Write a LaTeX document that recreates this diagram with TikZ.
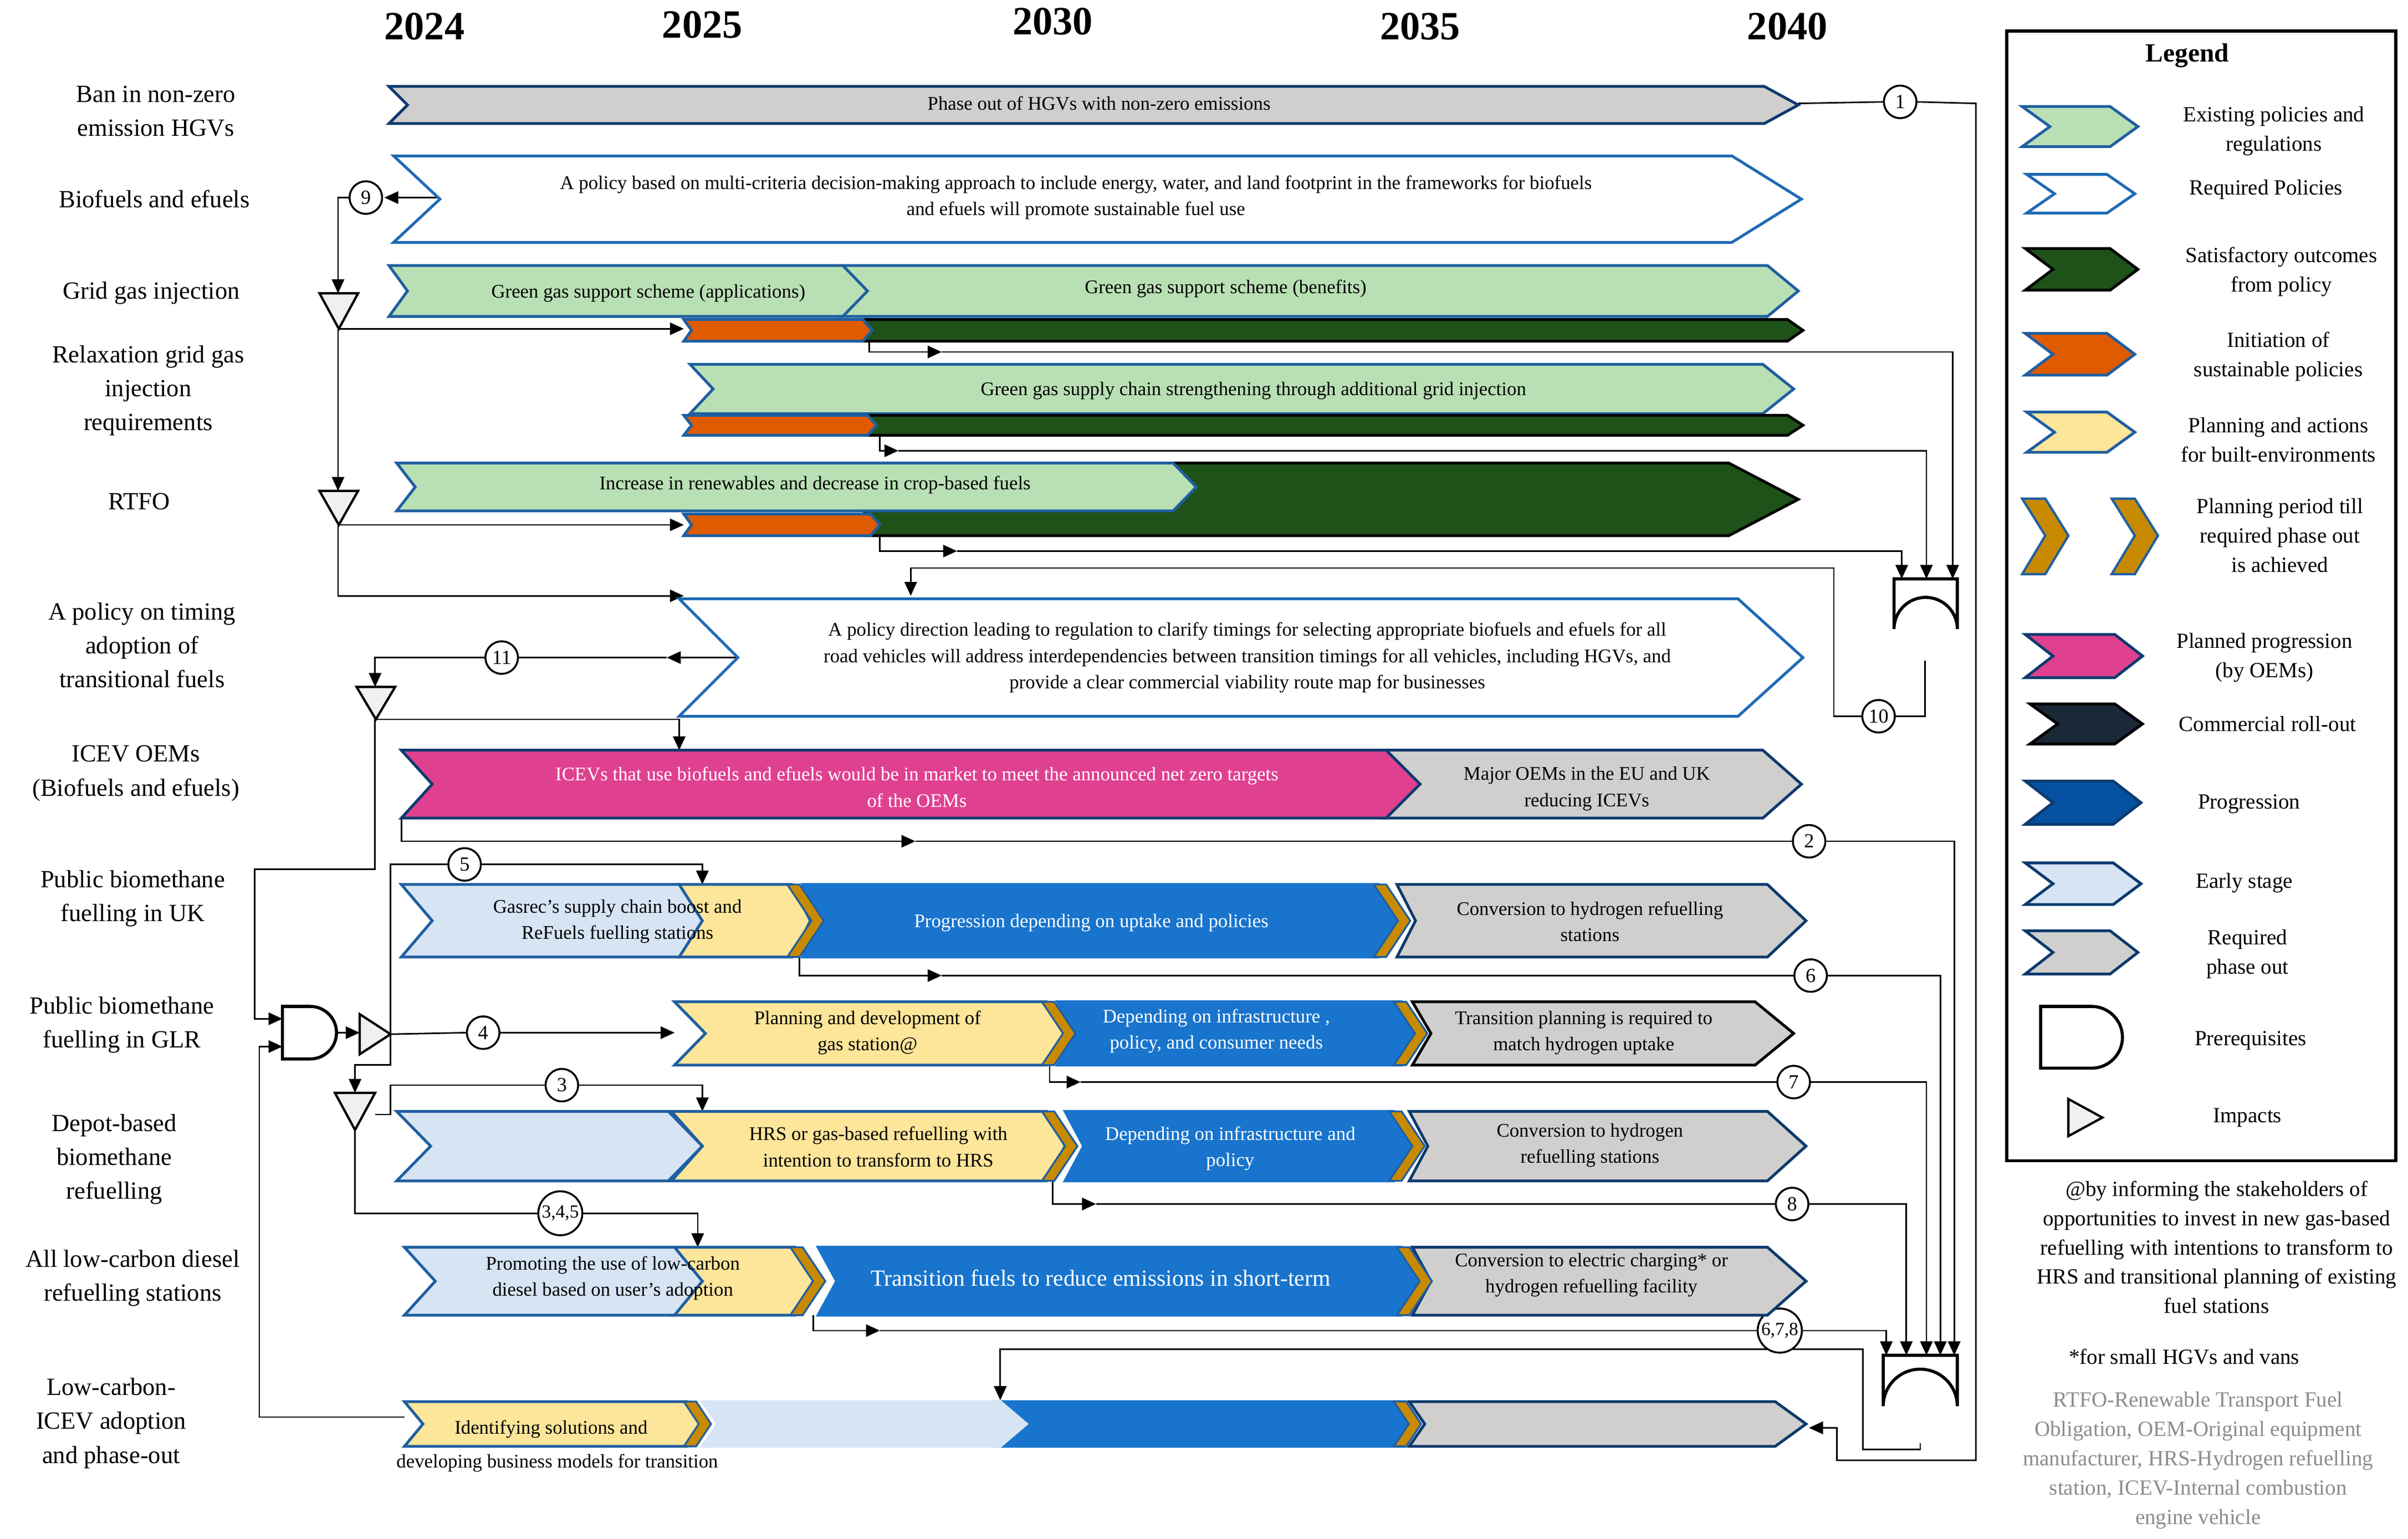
\documentclass[tikz,border=0pt]{standalone}
\usepackage{fontspec}
\setmainfont{Liberation Serif}
\usetikzlibrary{arrows.meta}
\definecolor{cgray}{HTML}{D0CFCD}
\definecolor{cnavyS}{HTML}{0D3A6E}
\definecolor{cblueS}{HTML}{1F5FA0}
\definecolor{cwS}{HTML}{1F6AB4}
\definecolor{cgreen}{HTML}{B9E0B4}
\definecolor{cdg}{HTML}{1E5219}
\definecolor{corange}{HTML}{E05A00}
\definecolor{cyellow}{HTML}{FDE59A}
\definecolor{cgold}{HTML}{C88A00}
\definecolor{cpink}{HTML}{E04090}
\definecolor{cnavy}{HTML}{1A2838}
\definecolor{cblue}{HTML}{1874CC}
\definecolor{cprog}{HTML}{0550A0}
\definecolor{clb}{HTML}{D6E4F4}
\definecolor{cnote}{HTML}{8C8C8C}
\newcommand{\chv}[8]{\draw[line width=1.8pt,fill=#1,draw=#2,line join=miter] (#3,#5) -- ({#4-#8},#5) -- (#4,{(#5+#6)/2}) -- ({#4-#8},#6) -- (#3,#6) -- ({#3+#7},{(#5+#6)/2}) -- cycle;}
\newcommand{\gld}[3]{\draw[line width=1.2pt,fill=cgold,draw=cblueS] (#1,#2) -- ({#1+8},#2) -- ({#1+8+(#3-#2)/3},{(#2+#3)/2}) -- ({#1+8},#3) -- (#1,#3) -- ({#1+(#3-#2)/3},{(#2+#3)/2}) -- cycle;}
\tikzset{
 ar/.style={-{Triangle[length=9pt,width=8pt]}, line width=1pt},
 ln/.style={line width=1pt},
 num/.style={circle,draw,line width=1.2pt,fill=white,inner sep=0pt,minimum size=21pt,font=\fontsize{13}{13}\selectfont},
 lab/.style={align=center,font=\fontsize{16}{22}\selectfont},
 bt/.style={align=center,font=\fontsize{12.5}{17}\selectfont},
 wt/.style={bt,text=white},
 yr/.style={font=\fontsize{26}{26}\selectfont\bfseries},
 lg/.style={align=center,font=\fontsize{14}{19}\selectfont},
 gate/.style={line width=2pt,fill=white},
 tri/.style={line width=1.5pt,fill=gray!12},
}
\begin{document}
\begin{tikzpicture}[x=1pt,y=-1pt]
\useasboundingbox (0,0) rectangle (1560,997);
% years
\node[yr] at (275,17) {2024};
\node[yr] at (455,16) {2025};
\node[yr] at (682,14) {2030};
\node[yr] at (920,17) {2035};
\node[yr] at (1158,17) {2040};
% left labels
\node[lab] at (101,72) {Ban in non-zero\\emission HGVs};
\node[lab] at (100,129) {Biofuels and efuels};
\node[lab] at (98,190) {Grid gas injection};
\node[lab] at (96,253) {Relaxation grid gas\\injection\\requirements};
\node[lab] at (90,325) {RTFO};
\node[lab] at (92,418) {A policy on timing\\adoption of\\transitional fuels};
\node[lab] at (88,501) {ICEV OEMs\\(Biofuels and efuels)};
\node[lab] at (86,582) {Public biomethane\\fuelling in UK};
\node[lab] at (79,664) {Public biomethane\\fuelling in GLR};
\node[lab] at (74,751) {Depot-based\\biomethane\\refuelling};
\node[lab] at (86,828) {All low-carbon diesel\\refuelling stations};
\node[lab] at (72,922) {Low-carbon-\\ICEV adoption\\and phase-out};
% ---- connectors (under bars) ----
\node[num] (c1) at (1231,66) {1};
\node[num] (c9) at (237,128) {9};
\node[num] (c10) at (1217,464) {10};
\node[num] (c11) at (325,426) {11};
\node[num] (c2) at (1172,545) {2};
\node[num] (c5) at (301,560) {5};
\node[num] (c6) at (1173,632) {6};
\node[num] (c4) at (313,669) {4};
\node[num] (c7) at (1162,701) {7};
\node[num] (c3) at (364,703) {3};
\node[num] (c8) at (1161,780) {8};
\node[num,font=\fontsize{12}{12}\selectfont,inner sep=1pt] (c345) at (363,786) {3,4,5};
\node[num,font=\fontsize{12}{12}\selectfont,inner sep=1pt] (c678) at (1153,862) {6,7,8};
\begin{scope}[on background layer/.style={}]
\draw[ln] (1165,67) -- (c1.west); \draw[ar] (c1.east) -- (1280,67) -- (1280,946) -- (1190,946) -- (1190,925) -- (1172,925);
\draw[ar] (285,128) -- (249,128);
\draw[ar] (c9.west) -| (219,190);
\draw[ar] (219,213) -- (443,213);
\draw[ar] (219,213) -- (219,318);
\draw[ar] (219,340) -- (443,340);
\draw[ar] (219,340) -- (219,386) -- (443,386);
\draw[ar] (563,221) |- (610,228); \draw[ar] (610,228) -| (1265,375);
\draw[ar] (570,282) |- (582,292); \draw[ar] (582,292) -| (1248,375);
\draw[ar] (570,347) |- (620,357); \draw[ar] (620,357) -| (1232,375);
\draw[ln] (1247,428) |- (c10.east);
\draw[ar] (c10.west) -| (1188,368) -| (590,386);
\draw[ar] (478,426) -- (432,426); \draw[ln] (432,426) -- (c11.east);
\draw[ar] (c11.west) -| (243,445);
\draw[ar] (243,466) -| (440,486);
\draw[ar] (243,466) -- (243,563) -- (165,563) -- (165,660) -- (183,660);
\draw[ar] (262,918) -- (168,918) -- (168,678) -- (183,678);
\draw[ar] (218,669) -- (233,669);
\draw[ln] (253,670) -- (c4.west); \draw[ar] (c4.east) -- (437,669);
\draw[ln] (253,670) -- (253,560) -- (c5.west); \draw[ar] (c5.east) -| (455,573);
\draw[ar] (253,670) -- (253,690) -- (230,690) -- (230,708);
\draw[ln] (243,722) -- (253,722) -- (253,703) -- (c3.west); \draw[ar] (c3.east) -| (455,720);
\draw[ln] (230,732) -- (230,786) -- (c345.west); \draw[ar] (c345.east) -| (452,808);
\draw[ar] (260,530) |- (593,545); \draw[ln] (593,545) -- (c2.west); \draw[ar] (c2.east) -| (1266,878);
\draw[ar] (518,620) |- (610,632); \draw[ln] (610,632) -- (c6.west); \draw[ar] (c6.east) -| (1257,878);
\draw[ar] (680,690) |- (700,701); \draw[ln] (700,701) -- (c7.west); \draw[ar] (c7.east) -| (1248,878);
\draw[ar] (682,765) |- (710,780); \draw[ln] (710,780) -- (c8.west); \draw[ar] (c8.east) -| (1235,878);
\draw[ar] (527,852) |- (570,862); \draw[ln] (570,862) -- (c678.west); \draw[ar] (c678.east) -| (1222,878);
\draw[ar] (1244,935) -- (1244,939) -- (1207,939) -- (1207,874) -- (648,874) -- (648,907);
\end{scope}
% redraw circles on top
\foreach \n/\t in {c1/1,c9/9,c10/10,c11/11,c2/2,c5/5,c6/6,c4/4,c7/7,c3/3,c8/8}{\node[num] at (\n) {\t};}
\node[num,font=\fontsize{12}{12}\selectfont,inner sep=1pt] at (c345) {3,4,5};
\node[num,font=\fontsize{12}{12}\selectfont,inner sep=1pt] at (c678) {6,7,8};
% gates
\draw[gate] (1227,375) -- (1268,375) -- (1268,407.5) arc (0:180:20.5 and -20.5) -- cycle;
\draw[gate] (1220,878) -- (1268,878) -- (1268,911) arc (0:180:24 and -24) -- cycle;
\draw[gate] (183,652) -- (201,652) arc (90:-90:17 and -17) -- (183,686) -- cycle;
\draw[tri] (207,190) -- (232,190) -- (219.5,213) -- cycle;
\draw[tri] (207,318) -- (232,318) -- (219.5,340) -- cycle;
\draw[tri] (231,445) -- (256,445) -- (243.5,466) -- cycle;
\draw[tri] (233,657) -- (233,683) -- (253,670) -- cycle;
\draw[tri] (217,708) -- (243,708) -- (230,732) -- cycle;
% ---- bars ----
\chv{cgray}{cnavyS}{252}{1165}{56}{80}{12}{22}
\chv{white}{cwS}{255}{1167}{101}{157}{30}{45}
\chv{cgreen}{cblueS}{545}{1165}{172}{205}{16}{20}
\chv{cgreen}{cblueS}{252}{562}{172}{205}{12}{16}
\chv{cdg}{black}{555}{1168}{207}{221}{6}{10}
\chv{corange}{cblueS}{443}{565}{207}{221}{5}{6}
\chv{cgreen}{cblueS}{447}{1162}{236}{268}{15}{20}
\chv{cdg}{black}{560}{1168}{269}{282}{6}{10}
\chv{corange}{cblueS}{443}{568}{269}{282}{5}{6}
\chv{cdg}{black}{560}{1165}{300}{347}{0}{45}
\chv{cgreen}{cblueS}{257}{775}{300}{331}{12}{15}
\chv{corange}{cblueS}{443}{570}{333}{347}{5}{6}
\chv{white}{cwS}{440}{1168}{388}{464}{38}{42}
\chv{cgray}{cnavyS}{897}{1167}{486}{530}{15}{25}
\chv{cpink}{cnavyS}{260}{920}{486}{530}{20}{22}
% row UK
\chv{cgray}{cnavyS}{905}{1170}{573}{620}{12}{25}
\chv{cblue}{cblue}{520}{905}{573}{620}{12}{12}
\chv{cyellow}{cblueS}{440}{525}{573}{620}{12}{12}
\chv{clb}{cblueS}{260}{455}{573}{620}{20}{15}
\gld{510}{573}{620}\gld{890}{573}{620}
% row GLR
\chv{cgray}{black}{915}{1162}{649}{690}{12}{25}
\chv{cblue}{cblue}{685}{920}{649}{690}{12}{12}
\chv{cyellow}{cblueS}{437}{690}{649}{690}{20}{12}
\gld{675}{649}{690}\gld{903}{649}{690}
% row depot
\chv{cgray}{cnavyS}{913}{1170}{720}{765}{12}{25}
\chv{cblue}{cblue}{690}{915}{720}{765}{12}{12}
\chv{cyellow}{cblueS}{435}{690}{720}{765}{20}{12}
\chv{clb}{cblueS}{257}{455}{720}{765}{22}{22}
\gld{675}{720}{765}\gld{900}{720}{765}
% row diesel
\chv{cgray}{cnavyS}{915}{1170}{808}{852}{12}{25}
\chv{cblue}{cblue}{530}{920}{808}{852}{12}{12}
\chv{cyellow}{cblueS}{435}{527}{808}{852}{20}{12}
\chv{clb}{cblueS}{262}{455}{808}{852}{20}{18}
\gld{512}{808}{852}\gld{905}{808}{852}
% row ICEV
\chv{cgray}{cnavyS}{913}{1170}{908}{937}{10}{20}
\chv{cblue}{cblue}{648}{920}{908}{937}{10}{10}
\chv{clb}{clb}{455}{665}{908}{937}{10}{17}
\chv{cyellow}{cblueS}{262}{455}{908}{937}{12}{10}
\gld{443}{908}{937}\gld{903}{908}{937}
% arrows into bars on top
\draw[ar] (1190,925) -- (1172,925);
\draw[ar] (648,890) -- (648,907);
% bar texts
\node[bt] at (712,67) {Phase out of HGVs with non-zero emissions};
\node[bt] at (697,128) {A policy based on multi-criteria decision-making approach to include energy, water, and land footprint in the frameworks for biofuels\\and efuels will promote sustainable fuel use};
\node[bt] at (420,190) {Green gas support scheme (applications)};
\node[bt] at (794,187) {Green gas support scheme (benefits)};
\node[bt] at (812,253) {Green gas supply chain strengthening through additional grid injection};
\node[bt] at (528,314) {Increase in renewables and decrease in crop-based fuels};
\node[bt] at (808,426) {A policy direction leading to regulation to clarify timings for selecting appropriate biofuels and efuels for all\\road vehicles will address interdependencies between transition timings for all vehicles, including HGVs, and\\provide a clear commercial viability route map for businesses};
\node[wt] at (594,510) {ICEVs that use biofuels and efuels would be in market to meet the announced net zero targets\\of the OEMs};
\node[bt] at (1028,511) {Major OEMs in the EU and UK\\reducing ICEVs};
\node[bt] at (400,597) {Gasrec's supply chain boost and\\ReFuels fuelling stations};
\node[wt] at (707,598) {Progression depending on uptake and policies};
\node[bt] at (1030,597) {Conversion to hydrogen refuelling\\stations};
\node[bt] at (562,669) {Planning and development of\\gas station@};
\node[wt] at (788,668) {Depending on infrastructure ,\\policy, and consumer needs};
\node[bt] at (1026,669) {Transition planning is required to\\match hydrogen uptake};
\node[bt] at (569,743) {HRS or gas-based refuelling with\\intention to transform to HRS};
\node[wt] at (797,744) {Depending on infrastructure and\\policy};
\node[bt] at (1030,742) {Conversion to hydrogen\\refuelling stations};
\node[bt] at (397,828) {Promoting the use of low-carbon\\diesel based on user's adoption};
\node[wt,font=\fontsize{15}{18}\selectfont] at (713,828) {Transition fuels to reduce emissions in short-term};
\node[bt] at (1031,826) {Conversion to electric charging* or\\hydrogen refuelling facility};
\node[bt] at (357,926) {Identifying solutions and};
\node[bt] at (361,948) {developing business models for transition};
% ---- legend ----
\draw[line width=2pt] (1300,20) rectangle (1552,752);
\node[font=\fontsize{17}{17}\selectfont\bfseries] at (1417,36) {Legend};
\chv{cgreen}{cblueS}{1310}{1385}{69}{95}{18}{18}
\chv{white}{cwS}{1313}{1383}{113}{138}{18}{18}
\chv{cdg}{black}{1312}{1385}{161}{188}{18}{18}
\chv{corange}{cblueS}{1312}{1383}{216}{243}{18}{18}
\chv{cyellow}{cblueS}{1313}{1383}{267}{293}{18}{18}
\draw[line width=1.5pt,fill=cgold,draw=cblueS] (1310,323) -- (1325,323) -- (1340,347) -- (1325,372) -- (1310,372) -- (1325,347) -- cycle;
\draw[line width=1.5pt,fill=cgold,draw=cblueS] (1368,323) -- (1383,323) -- (1398,347) -- (1383,372) -- (1368,372) -- (1383,347) -- cycle;
\chv{cpink}{cnavyS}{1312}{1388}{411}{439}{18}{18}
\chv{cnavy}{black}{1315}{1388}{456}{482}{18}{18}
\chv{cprog}{cnavyS}{1312}{1387}{506}{534}{18}{18}
\chv{clb}{cnavyS}{1312}{1387}{559}{586}{18}{18}
\chv{cgray}{cnavyS}{1312}{1385}{603}{631}{18}{18}
\draw[gate] (1322,652) -- (1355,652) arc (90:-90:20 and -20) -- (1322,692) -- cycle;
\draw[tri] (1340,712) -- (1340,736) -- (1362,724) -- cycle;
\node[lg] at (1473,85) {Existing policies and\\regulations};
\node[lg] at (1468,123) {Required Policies};
\node[lg] at (1478,176) {Satisfactory outcomes\\from policy};
\node[lg] at (1476,231) {Initiation of\\sustainable policies};
\node[lg] at (1476,285) {Planning and actions\\for built-environments};
\node[lg] at (1477,347) {Planning period till\\required phase out\\is achieved};
\node[lg] at (1467,426) {Planned progression\\(by OEMs)};
\node[lg] at (1469,469) {Commercial roll-out};
\node[lg] at (1457,521) {Progression};
\node[lg] at (1454,572) {Early stage};
\node[lg] at (1456,618) {Required\\phase out};
\node[lg] at (1458,674) {Prerequisites};
\node[lg] at (1456,724) {Impacts};
\node[lg] at (1436,808) {@by informing the stakeholders of\\opportunities to invest in new gas-based\\refuelling with intentions to transform to\\HRS and transitional planning of existing\\fuel stations};
\node[lg] at (1415,879) {*for small HGVs and vans};
\node[lg,text=cnote] at (1424,946) {RTFO-Renewable Transport Fuel\\Obligation, OEM-Original equipment\\manufacturer, HRS-Hydrogen refuelling\\station, ICEV-Internal combustion\\engine vehicle};
\end{tikzpicture}
\end{document}
